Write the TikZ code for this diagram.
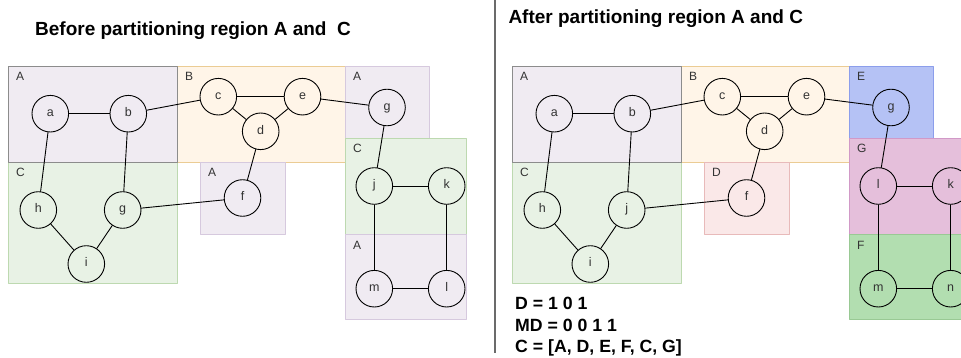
\documentclass[tikz,border=0pt]{standalone}
\usepackage{fontspec}
\setmainfont{Liberation Sans}
\definecolor{fqebfs}{rgb}{0.94,0.92,0.95}
\definecolor{ycycyc}{rgb}{0.55,0.55,0.55}
\definecolor{dwczde}{rgb}{0.84,0.79,0.87}
\definecolor{fffvey}{rgb}{1,0.96,0.91}
\definecolor{ebcczu}{rgb}{0.92,0.8,0.58}
\definecolor{eyfsew}{rgb}{0.91,0.95,0.9}
\definecolor{bddzbq}{rgb}{0.74,0.85,0.69}
\definecolor{faeyey}{rgb}{0.98,0.91,0.91}
\definecolor{eybaba}{rgb}{0.91,0.73,0.73}
\definecolor{bvcsfv}{rgb}{0.71,0.76,0.96}
\definecolor{yczeeb}{rgb}{0.55,0.62,0.92}
\definecolor{ewbfdb}{rgb}{0.9,0.75,0.86}
\definecolor{drzzcx}{rgb}{0.82,0.6,0.78}
\definecolor{btdebq}{rgb}{0.7,0.87,0.69}
\definecolor{zzczzu}{rgb}{0.6,0.79,0.58}
\definecolor{tttttt}{rgb}{0.2,0.2,0.2}
\definecolor{wbwbwb}{rgb}{0.42,0.42,0.42}

\begin{document}
\begin{tikzpicture}[line cap=round,line join=round,x=1pt,y=-1pt,
  vtx/.style={circle,draw=black,line width=0.9pt,minimum size=36.6pt,inner sep=0pt,text=tttttt,
    text height=7pt,text depth=1.5pt,font=\fontsize{12.5}{14}\selectfont},
  rlab/.style={anchor=base west,inner sep=0pt,text=tttttt,font=\fontsize{12}{14}\selectfont},
  ttl/.style={anchor=base west,inner sep=0pt,font=\fontsize{19}{22}\selectfont\bfseries},
  res/.style={anchor=base west,inner sep=0pt,font=\fontsize{17.7}{21}\selectfont\bfseries},
  edge/.style={line width=0.9pt,draw=black}]
\clip(0,0) rectangle (961,358);
% before
\filldraw[fill=fffvey,draw=ebcczu] (177,66) rectangle (345,162);
\filldraw[fill=fqebfs,draw=dwczde] (345,66) rectangle (429,138);
\filldraw[fill=eyfsew,draw=bddzbq] (345,138) rectangle (466,234);
\filldraw[fill=fqebfs,draw=dwczde] (345,234) rectangle (466,319);
\filldraw[fill=fqebfs,draw=dwczde] (200,162) rectangle (285,234);
\filldraw[fill=eyfsew,draw=bddzbq] (8,162) rectangle (177,283);
\filldraw[fill=fqebfs,draw=ycycyc] (8,66) rectangle (177,162);
\node[rlab] (lA1) at (16,81) {A};
\node[rlab] (lB) at (185,81) {B};
\node[rlab] (lA2) at (353,81) {A};
\node[rlab] (lC2) at (353,153) {C};
\node[rlab] (lA4) at (353,249) {A};
\node[rlab] (lA3) at (208,177) {A};
\node[rlab] (lC1) at (16,177) {C};
\node[ttl] (title1) at (35,36) {Before partitioning region A and\ \ C};
\node[vtx] (a) at (50.3,113.7) {a};
\node[vtx] (b) at (128.3,113.7) {b};
\node[vtx] (c) at (218.3,96.7) {c};
\node[vtx] (e) at (302.5,96.7) {e};
\node[vtx] (d) at (260.7,131.3) {d};
\node[vtx] (g) at (387,107.5) {g};
\node[vtx] (j) at (374.3,186) {j};
\node[vtx] (k) at (446.7,186) {k};
\node[vtx] (m) at (374.3,288.7) {m};
\node[vtx] (l) at (446.7,288.7) {l};
\node[vtx] (h) at (38.3,210) {h};
\node[vtx] (gg) at (122.7,210) {g};
\node[vtx] (i) at (86.3,264) {i};
\node[vtx] (f) at (242.5,198) {f};
\draw[edge] (a) -- (b);
\draw[edge] (a) -- (h);
\draw[edge] (b) -- (gg);
\draw[edge] (b) -- (c);
\draw[edge] (c) -- (e);
\draw[edge] (c) -- (d);
\draw[edge] (d) -- (e);
\draw[edge] (e) -- (g);
\draw[edge] (g) -- (j);
\draw[edge] (j) -- (k);
\draw[edge] (j) -- (m);
\draw[edge] (k) -- (l);
\draw[edge] (m) -- (l);
\draw[edge] (h) -- (i);
\draw[edge] (i) -- (gg);
\draw[edge] (gg) -- (f);
\draw[edge] (d) -- (f);
% separator
\draw[line width=2pt,color=wbwbwb,line cap=butt] (494.7,0) -- (494.7,353);
% after
\filldraw[fill=fffvey,draw=ebcczu] (681,66) rectangle (849,162);
\filldraw[fill=bvcsfv,draw=yczeeb] (849,66) rectangle (933,138);
\filldraw[fill=ewbfdb,draw=drzzcx] (849,138) rectangle (970,234);
\filldraw[fill=btdebq,draw=zzczzu] (849,234) rectangle (970,319);
\filldraw[fill=faeyey,draw=eybaba] (704,162) rectangle (789,234);
\filldraw[fill=eyfsew,draw=bddzbq] (512,162) rectangle (681,283);
\filldraw[fill=fqebfs,draw=ycycyc] (512,66) rectangle (681,162);
\node[rlab] (rlA) at (520,81) {A};
\node[rlab] (rlB) at (689,81) {B};
\node[rlab] (rlE) at (857,81) {E};
\node[rlab] (rlG) at (857,153) {G};
\node[rlab] (rlF) at (857,249) {F};
\node[rlab] (rlD) at (712,177) {D};
\node[rlab] (rlC) at (520,177) {C};
\node[ttl] (title2) at (508.3,24) {After partitioning region A and C};
\node[vtx] (ra) at (554.3,113.7) {a};
\node[vtx] (rb) at (632.3,113.7) {b};
\node[vtx] (rc) at (722.3,96.7) {c};
\node[vtx] (re) at (806.5,96.7) {e};
\node[vtx] (rd) at (764.7,131.3) {d};
\node[vtx] (rg) at (891,107.5) {g};
\node[vtx] (rl) at (878.3,186) {l};
\node[vtx] (rk) at (950.7,186) {k};
\node[vtx] (rm) at (878.3,288.7) {m};
\node[vtx] (rn) at (950.7,288.7) {n};
\node[vtx] (rh) at (542.3,210) {h};
\node[vtx] (rj) at (626.7,210) {j};
\node[vtx] (ri) at (590.3,264) {i};
\node[vtx] (rf) at (746.5,198) {f};
\draw[edge] (ra) -- (rb);
\draw[edge] (ra) -- (rh);
\draw[edge] (rb) -- (rj);
\draw[edge] (rb) -- (rc);
\draw[edge] (rc) -- (re);
\draw[edge] (rc) -- (rd);
\draw[edge] (rd) -- (re);
\draw[edge] (re) -- (rg);
\draw[edge] (rg) -- (rl);
\draw[edge] (rl) -- (rk);
\draw[edge] (rl) -- (rm);
\draw[edge] (rk) -- (rn);
\draw[edge] (rm) -- (rn);
\draw[edge] (rh) -- (ri);
\draw[edge] (ri) -- (rj);
\draw[edge] (rj) -- (rf);
\draw[edge] (rd) -- (rf);
\node[res] (txtD) at (515,309.3) {D = 1 0 1};
\node[res] (txtMD) at (515,331.7) {MD = 0 0 1 1};
\node[res] (txtC) at (515,352.7) {C = [A, D, E, F, C, G]};
\end{tikzpicture}
\end{document}
